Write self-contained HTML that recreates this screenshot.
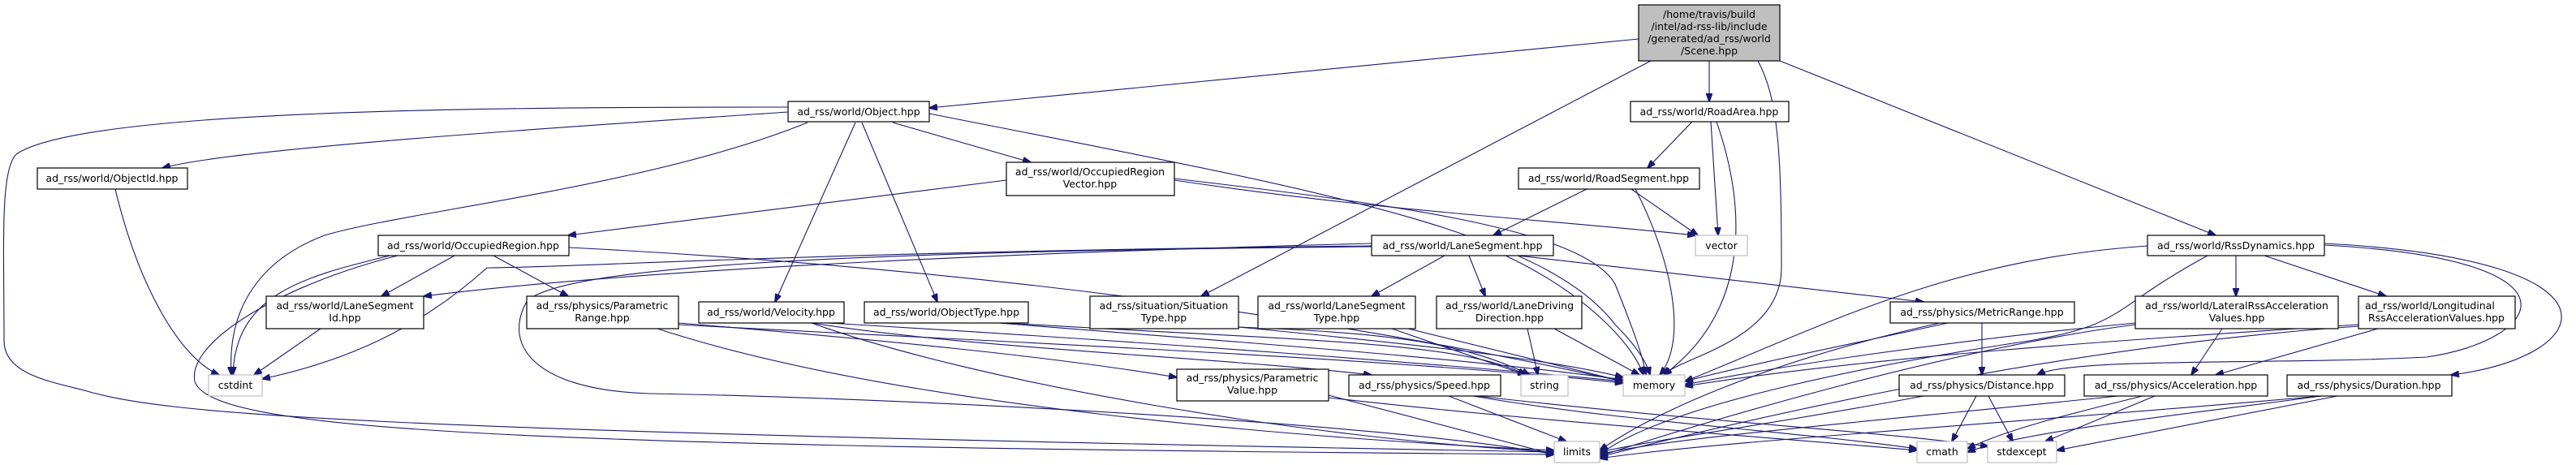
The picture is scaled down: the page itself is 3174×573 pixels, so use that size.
<!DOCTYPE html>
<html><head><meta charset="utf-8"><style>
html,body{margin:0;padding:0;background:#fff;}
svg{display:block;}
text{font-family:"DejaVu Sans","Liberation Sans",sans-serif;font-size:12.5px;fill:#000;}
.n{fill:#fff;stroke:#000;stroke-width:1.2;}
.g{fill:#fff;stroke:#bfbfbf;stroke-width:1.2;}
.e{fill:none;stroke:#191970;stroke-width:1.1;}
</style></head><body>
<svg width="3174" height="573" viewBox="0 0 3174 573" xmlns="http://www.w3.org/2000/svg">
<defs><marker id="a" markerWidth="11" markerHeight="8" refX="10" refY="4" orient="auto" markerUnits="userSpaceOnUse"><path d="M0,0 L11,4 L0,8 z" fill="#191970" stroke="#191970"/></marker></defs>
<g class="e" marker-end="url(#a)">
<path d="M2019,48 L1145,133"/>
<path d="M2106,75 L2106,125"/>
<path d="M2034,75 L1480,365"/>
<path d="M2166,75 C2190,120 2195,180 2195,330 C2195,420 2070,440 2050,462"/>
<path d="M2193,75 L2730,290"/>
<path d="M971,138 C800,150 300,180 200,207"/>
<path d="M971,132 C600,132 100,135 20,190 C0,210 5,300 5,420 C5,460 60,470 100,480 C200,510 400,530 1915,557"/>
<path d="M995,151 C800,230 500,260 400,290 C320,320 280,380 285,462"/>
<path d="M1054,151 L955,372"/>
<path d="M1062,151 L1155,372"/>
<path d="M1100,151 L1270,200"/>
<path d="M1145,140 C1600,230 1900,280 1990,400 C2020,430 2030,450 2033,462"/>
<path d="M1240,222 L700,290"/>
<path d="M1447,222 C1700,260 1900,270 2089,290"/>
<path d="M1447,220 C1700,250 1950,280 1990,350 C2010,400 2025,440 2028,462"/>
<path d="M560,315 L470,365"/>
<path d="M608,315 L700,365"/>
<path d="M480,315 C380,340 290,360 287,462"/>
<path d="M490,315 C350,350 230,420 240,470 C260,530 600,550 1915,560"/>
<path d="M701,305 C1000,320 1500,360 2000,470"/>
<path d="M142,233 C170,350 220,440 270,462"/>
<path d="M395,405 L313,462"/>
<path d="M1690,300 C1300,310 800,330 522,365"/>
<path d="M1690,303 C1000,310 700,330 600,330 C500,420 400,450 323,467"/>
<path d="M1690,304 C1000,310 700,330 650,370 C620,420 650,480 800,485 C1100,490 1700,520 1915,560"/>
<path d="M1780,315 L1690,365"/>
<path d="M1810,315 L1830,365"/>
<path d="M1870,315 L2370,372"/>
<path d="M1855,315 C1950,360 2010,420 2025,462"/>
<path d="M2085,150 L2030,207"/>
<path d="M2108,150 L2117,290"/>
<path d="M2115,150 C2150,250 2160,380 2050,462"/>
<path d="M1955,233 L1840,290"/>
<path d="M2010,233 L2092,290"/>
<path d="M2015,233 C2060,320 2080,420 2045,462"/>
<path d="M1526,403 C1700,420 1900,440 2000,465"/>
<path d="M1526,403 C1700,410 1800,420 1885,462"/>
<path d="M1230,398 C1500,420 1800,440 2000,468"/>
<path d="M1240,398 C1600,420 1800,420 1880,462"/>
<path d="M1715,405 L1880,462"/>
<path d="M1735,405 L2000,470"/>
<path d="M1882,405 L1895,462"/>
<path d="M1915,405 L2020,462"/>
<path d="M1000,398 C1200,430 1500,440 1690,462"/>
<path d="M1020,398 C1400,420 1800,450 2000,470"/>
<path d="M1000,398 C1200,470 1600,540 1915,557"/>
<path d="M836,398 C1100,420 1300,440 1450,465"/>
<path d="M836,400 C1200,420 1700,440 2000,472"/>
<path d="M810,405 C1100,500 1600,540 1915,555"/>
<path d="M1637,487 L1915,560"/>
<path d="M1637,490 C1900,520 2200,540 2362,555"/>
<path d="M1785,488 L1930,544"/>
<path d="M1815,488 C2000,520 2200,530 2362,553"/>
<path d="M1820,488 C2100,520 2300,530 2450,550"/>
<path d="M2442,398 L2442,462"/>
<path d="M2400,398 C2300,420 2150,450 2076,470"/>
<path d="M2390,398 C2200,440 2050,500 1971,555"/>
<path d="M2755,315 L2755,365"/>
<path d="M2790,315 L2940,365"/>
<path d="M2864,302 C3200,320 3130,420 2990,440 C2800,450 2550,440 2510,462"/>
<path d="M2864,300 C3250,320 3200,440 3020,462"/>
<path d="M2646,303 C2400,320 2250,400 2076,470"/>
<path d="M2720,315 C2600,380 2620,400 2500,420 C2300,450 2050,500 1971,560"/>
<path d="M2738,405 L2700,462"/>
<path d="M2631,398 C2400,420 2200,450 2076,474"/>
<path d="M2631,400 C2400,430 2100,520 1971,562"/>
<path d="M2930,405 L2730,462"/>
<path d="M2906,400 C2600,420 2300,440 2076,476"/>
<path d="M2906,402 C2500,430 2100,530 1971,563"/>
<path d="M2435,488 L2405,544"/>
<path d="M2450,488 L2480,544"/>
<path d="M2370,488 C2200,520 2050,540 1971,557"/>
<path d="M2640,488 C2550,510 2470,530 2424,553"/>
<path d="M2655,488 L2520,544"/>
<path d="M2610,488 C2300,520 2050,540 1971,560"/>
<path d="M2860,488 C2700,510 2500,530 2424,557"/>
<path d="M2880,488 L2534,555"/>
<path d="M2860,488 C2500,520 2100,545 1971,565"/>
</g>
<g text-anchor="middle">
<rect x="2019" y="6" width="174" height="69" fill="#bfbfbf" stroke="#000" stroke-width="1.2"/>
<text x="2106" y="21" text-anchor="start" dx="-92" x2="0"></text>
<text x="2106" y="22">/home/travis/build</text>
<text x="2106" y="37">/intel/ad-rss-lib/include</text>
<text x="2106" y="52">/generated/ad_rss/world</text>
<text x="2106" y="67">/Scene.hpp</text>

<rect class="n" x="971" y="125" width="174" height="25"/><text x="1058" y="142">ad_rss/world/Object.hpp</text>
<rect class="n" x="2009" y="125" width="195" height="25"/><text x="2106" y="142">ad_rss/world/RoadArea.hpp</text>
<rect class="n" x="46" y="207" width="185" height="26"/><text x="138" y="224">ad_rss/world/ObjectId.hpp</text>
<rect class="n" x="1240" y="200" width="207" height="41"/><text x="1343" y="216">ad_rss/world/OccupiedRegion</text><text x="1343" y="231">Vector.hpp</text>
<rect class="n" x="1871" y="207" width="223" height="26"/><text x="1982" y="224">ad_rss/world/RoadSegment.hpp</text>
<rect class="n" x="466" y="290" width="235" height="25"/><text x="583" y="307">ad_rss/world/OccupiedRegion.hpp</text>
<rect class="n" x="1690" y="290" width="224" height="25"/><text x="1802" y="307">ad_rss/world/LaneSegment.hpp</text>
<rect class="g" x="2089" y="290" width="64" height="25"/><text x="2121" y="307">vector</text>
<rect class="n" x="2646" y="290" width="218" height="25"/><text x="2755" y="307">ad_rss/world/RssDynamics.hpp</text>
<rect class="n" x="328" y="365" width="194" height="40"/><text x="425" y="381">ad_rss/world/LaneSegment</text><text x="425" y="396">Id.hpp</text>
<rect class="n" x="649" y="365" width="187" height="40"/><text x="742" y="381">ad_rss/physics/Parametric</text><text x="742" y="396">Range.hpp</text>
<rect class="n" x="861" y="372" width="179" height="26"/><text x="950" y="389">ad_rss/world/Velocity.hpp</text>
<rect class="n" x="1065" y="372" width="202" height="26"/><text x="1166" y="389">ad_rss/world/ObjectType.hpp</text>
<rect class="n" x="1343" y="365" width="183" height="40"/><text x="1434" y="381">ad_rss/situation/Situation</text><text x="1434" y="396">Type.hpp</text>
<rect class="n" x="1550" y="365" width="194" height="40"/><text x="1647" y="381">ad_rss/world/LaneSegment</text><text x="1647" y="396">Type.hpp</text>
<rect class="n" x="1770" y="365" width="179" height="40"/><text x="1860" y="381">ad_rss/world/LaneDriving</text><text x="1860" y="396">Direction.hpp</text>
<rect class="n" x="2329" y="372" width="227" height="26"/><text x="2442" y="389">ad_rss/physics/MetricRange.hpp</text>
<rect class="n" x="2631" y="365" width="250" height="40"/><text x="2756" y="381">ad_rss/world/LateralRssAcceleration</text><text x="2756" y="396">Values.hpp</text>
<rect class="n" x="2906" y="365" width="193" height="40"/><text x="2914" y="381" text-anchor="start">ad_rss/world/Longitudinal</text><text x="3002" y="396">RssAccelerationValues.hpp</text>
<rect class="g" x="257" y="462" width="66" height="26"/><text x="290" y="479">cstdint</text>
<rect class="n" x="1450" y="455" width="187" height="39"/><text x="1543" y="470">ad_rss/physics/Parametric</text><text x="1543" y="485">Value.hpp</text>
<rect class="n" x="1662" y="462" width="187" height="26"/><text x="1755" y="479">ad_rss/physics/Speed.hpp</text>
<rect class="g" x="1874" y="462" width="58" height="26"/><text x="1903" y="479">string</text>
<rect class="g" x="2000" y="462" width="76" height="26"/><text x="2038" y="479">memory</text>
<rect class="n" x="2340" y="462" width="204" height="26"/><text x="2442" y="479">ad_rss/physics/Distance.hpp</text>
<rect class="n" x="2568" y="462" width="226" height="26"/><text x="2681" y="479">ad_rss/physics/Acceleration.hpp</text>
<rect class="n" x="2818" y="462" width="203" height="26"/><text x="2919" y="479">ad_rss/physics/Duration.hpp</text>
<rect class="g" x="1915" y="544" width="56" height="26"/><text x="1943" y="561">limits</text>
<rect class="g" x="2362" y="544" width="62" height="26"/><text x="2393" y="561">cmath</text>
<rect class="g" x="2449" y="544" width="85" height="26"/><text x="2491" y="561">stdexcept</text>
</g>
</svg>
</body></html>
